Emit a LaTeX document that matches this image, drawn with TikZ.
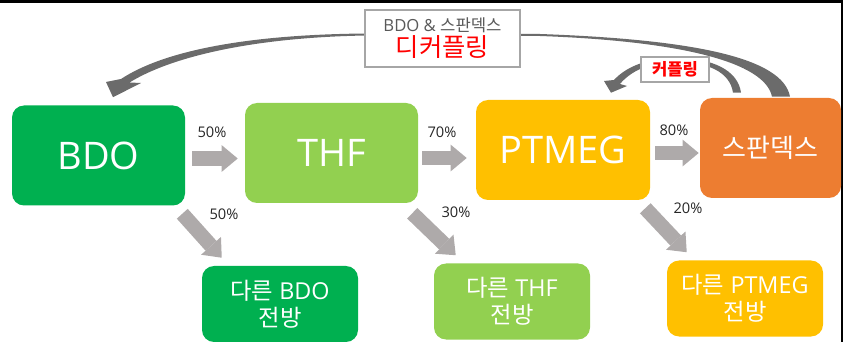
\documentclass[tikz,border=0pt]{standalone}
\usepackage{fontspec}
\setmainfont{Open Sans}
\newfontfamily\kr{Noto Sans CJK KR}
\usetikzlibrary{arrows.meta}

\definecolor{verdeBDO}{HTML}{00B050}
\definecolor{verdeTHF}{HTML}{92D050}
\definecolor{amarelo}{HTML}{FFC000}
\definecolor{laranja}{HTML}{ED7D31}
\definecolor{setacinza}{HTML}{AEAAAA}
\definecolor{curvacinza}{HTML}{6B6B6B}
\definecolor{textocinza}{HTML}{595959}

\begin{document}
\begin{tikzpicture}[x=0.75pt, y=-0.75pt,
    caixa/.style={rounded corners=9pt, inner sep=0pt, align=center, text=white},
    grande/.style={caixa, minimum width=129.75pt, minimum height=75pt,
        font=\fontsize{28.5}{32}\selectfont},
    pequena/.style={caixa, minimum width=117pt, minimum height=57pt,
        font=\fontsize{17.5}{20}\selectfont},
    fluxo/.style={setacinza, line width=11pt,
        -{Triangle[length=12pt, width=20pt, line width=0pt]}},
    pct/.style={font=\fontsize{11}{13}\selectfont, text=black!85},
    rotulo/.style={draw=black!35, line width=1pt, fill=white, inner sep=0pt, align=center},
    curva/.style={fill=curvacinza, draw=none}]
    \useasboundingbox (0,0) rectangle (843,342);

    % Bordas
    \draw[line width=2.25pt] (0,1.5) -- (843,1.5);
    \draw[line width=1.1pt] (842,0) -- (842,342);

    % Caixas principais
    \node[grande, fill=verdeBDO] (bdo) at (98.5,155.5) {BDO};
    \node[grande, fill=verdeTHF] (thf) at (331.5,153) {THF};
    \node[grande, fill=amarelo, minimum width=130.5pt] (ptmeg) at (563,150) {PTMEG};
    \node[grande, fill=laranja, minimum width=105.75pt,
        font=\kr\fontsize{19.5}{22}\selectfont] (spandex) at (770.5,148) {스판덱스};

    % Destinos
    \node[pequena, fill=verdeBDO] (obdo) at (280,304) {{\kr 다른} BDO\\{\kr 전방}};
    \node[pequena, fill=verdeTHF] (othf) at (512,301.5) {{\kr 다른} THF\\{\kr 전방}};
    \node[pequena, fill=amarelo] (optmeg) at (745,298.5) {{\kr 다른} PTMEG\\{\kr 전방}};

    % Setas de fluxo
    \draw[fluxo] ([shift={(7,3)}]bdo.east) -- ([shift={(-7,5.5)}]thf.west);
    \draw[fluxo] ([shift={(4,5)}]thf.east) -- ([shift={(-9,8)}]ptmeg.west);
    \draw[fluxo] ([shift={(5,3)}]ptmeg.east) -- ([shift={(-1,5)}]spandex.west);
    \draw[fluxo] ([shift={(-3,8)}]bdo.south east) -- ([shift={(20,-8)}]obdo.north west);
    \draw[fluxo] ([shift={(-6,10)}]thf.south east) -- ([shift={(22,-8)}]othf.north west);
    \draw[fluxo] ([shift={(-5,8)}]ptmeg.south east) -- ([shift={(20,-8)}]optmeg.north west);

    % Percentuais
    \node[pct] (p1) at (212,132) {50\%};
    \node[pct] (p2) at (442,132) {70\%};
    \node[pct] (p3) at (674,130) {80\%};
    \node[pct] (p4) at (224,214) {50\%};
    \node[pct] (p5) at (456,212) {30\%};
    \node[pct] (p6) at (688,208) {20\%};

    % Curva grande: spandex -> BDO
    \fill[curva] ([shift={(19.5,-1)}]spandex.north)
        .. controls (783,58) and (695,39.5) .. (540,34) -- (366,33.5)
        .. controls (250,34.5) and (165,50) .. (121,79)
        -- (106,82) -- ([shift={(14.5,-8)}]bdo.north) -- (141,83) -- (129.5,82.5)
        .. controls (170,57.5) and (250,37.5) .. (366,35.5) -- (540,36)
        .. controls (680,41) and (765,62) .. ([shift={(1.5,-1)}]spandex.north) -- cycle;

    % Curva pequena: spandex -> PTMEG
    \fill[curva] ([shift={(-29.5,-5)}]spandex.north)
        .. controls (738,70) and (712,58) .. (676,58)
        .. controls (645,58) and (625,68) .. (614,80)
        -- (604,81) -- ([shift={(48,-7)}]ptmeg.north) -- (627,86) -- (620,84)
        .. controls (630,72) and (648,62) .. (676,62)
        .. controls (708,62) and (730,72) .. ([shift={(-37.5,-5)}]spandex.north) -- cycle;

    % Rotulos
    \node[rotulo, minimum width=116.25pt, minimum height=42.75pt] (desacopla) at (442.5,38.5)
        {{\fontsize{12.5}{15}\selectfont\color{textocinza}BDO \& {\kr 스판덱스}}\\[1pt]
         {\kr\fontsize{19}{22}\selectfont\color{red}디커플링}};
    \node[rotulo, minimum width=51pt, minimum height=18.75pt,
        font=\kr\bfseries\fontsize{12.5}{14}\selectfont, text=red] (acopla) at (675,69.5) {커플링};
\end{tikzpicture}
\end{document}
